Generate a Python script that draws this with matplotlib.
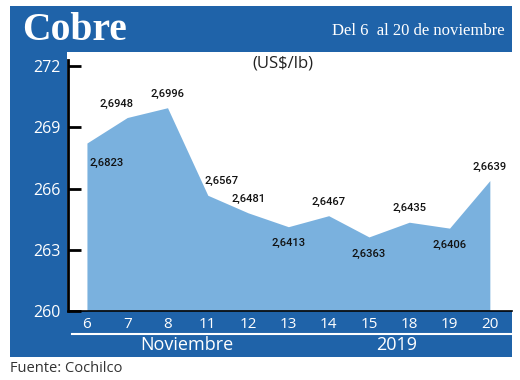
import matplotlib
matplotlib.use("Agg")
import matplotlib.pyplot as plt
from matplotlib.patches import Rectangle

days = ["6", "7", "8", "11", "12", "13", "14", "15", "18", "19", "20"]
values = [268.23, 269.48, 269.96, 265.67, 264.81, 264.13, 264.67, 263.63, 264.35, 264.06, 266.39]
labels = ["2,6823", "2,6948", "2,6996", "2,6567", "2,6481", "2,6413", "2,6467", "2,6363", "2,6435", "2,6406", "2,6639"]
yticks = [260, 263, 266, 269, 272]

DARK = "#1f63a9"
FILL = "#7ab1de"
W, H = 520, 380

fig = plt.figure(figsize=(5.2, 3.8), dpi=100)
fig.patch.set_facecolor("white")

# background axes in pixel coordinates
bg = fig.add_axes([0, 0, 1, 1])
bg.set_xlim(0, W)
bg.set_ylim(H, 0)
bg.axis("off")
bg.add_patch(Rectangle((10, 6), 502, 351, facecolor=DARK, edgecolor="none"))
bg.add_patch(Rectangle((67, 52), 445, 259, facecolor="white", edgecolor="none"))
bg.plot([72, 512], [334, 334], color="white", lw=1.5)

bg.text(22, 30, "Cobre", color="white", fontsize=28.5, fontweight="bold",
        family="Liberation Serif", va="center", ha="left")
bg.text(505, 31, "Del 6  al 20 de noviembre", color="white", fontsize=12,
        family="Liberation Serif", va="center", ha="right")
bg.text(187, 345, "Noviembre", color="white", fontsize=13, family="Open Sans",
        va="center", ha="center")
bg.text(397, 345, "2019", color="white", fontsize=13, family="Open Sans",
        va="center", ha="center")
bg.text(10, 368, "Fuente: Cochilco", color="#333333", fontsize=10.5,
        family="Open Sans", va="center", ha="left")
bg.text(283, 64, "(US$/lb)", color="#222222", fontsize=12, family="Open Sans",
        va="center", ha="center")

# main axes
left, right = 68 / W, 512 / W
bottom, top = (H - 311) / H, (H - 52) / H
ax = fig.add_axes([left, bottom, right - left, top - bottom])
ax.patch.set_alpha(0)
x = list(range(len(days)))
ax.fill_between(x, 260, values, color=FILL, lw=0)
ax.set_xlim(-0.47, 10.55)
ax.set_ylim(260, 272.69)

ax.spines["top"].set_visible(False)
ax.spines["right"].set_visible(False)
ax.spines["left"].set_linewidth(2)
ax.spines["left"].set_bounds(260, 272.3)
ax.spines["bottom"].set_linewidth(1.2)
ax.set_yticks(yticks)
ax.set_yticklabels([str(v) for v in yticks], color="white", fontsize=11.5, family="Open Sans")
ax.tick_params(axis="y", direction="in", length=9, width=2, pad=5)
ax.set_xticks(x)
ax.set_xticklabels(days, color="white", fontsize=11, family="Open Sans")
ax.tick_params(axis="x", length=0, pad=4)

offsets = [(14, -14), (-8, 10), (0, 10), (10, 10), (0, 10), (0, -12),
           (0, 10), (0, -12), (0, 10), (0, -12), (0, 10)]
for xi, v, lab, off in zip(x, values, labels, offsets):
    ax.annotate(lab, (xi, v), xytext=off, textcoords="offset points",
                ha="center", va="center", fontsize=8, color="#111111",
                fontweight="medium", family="Roboto")

fig.savefig("out.png", dpi=100)
